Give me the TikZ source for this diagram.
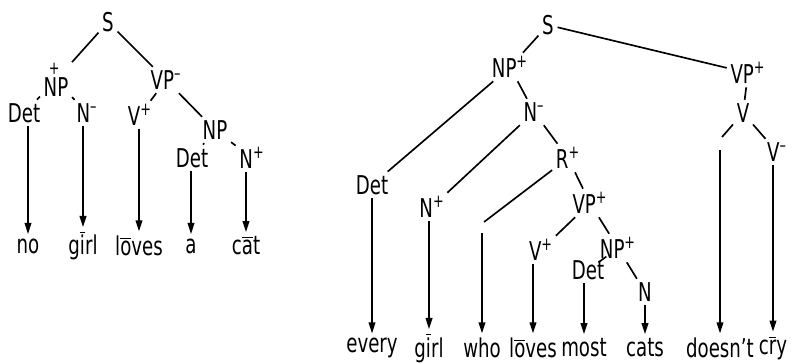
\documentclass[tikz,border=0pt]{standalone}
\usepackage{fontspec}
\setmainfont[FakeStretch=0.78]{DejaVu Sans Condensed}
\usepackage{tikz}
\usetikzlibrary{arrows.meta}
\newcommand{\sgp}{\textsuperscript{+}}
\newcommand{\sgm}{\textsuperscript{--}}
\newcommand{\bb}[1]{\ensuremath{\overline{\mbox{#1}}}}
\newcommand{\topplus}{\makebox[0pt][l]{\hspace{0.2em}\raisebox{0.5em}{\textsuperscript{+}}}}

\begin{document}
\begin{tikzpicture}[scale=0.19,line width=0.9pt,
  >={Triangle[length=6pt,width=3.6pt]}]
\tikzstyle{every node}+=[inner sep=1.6pt,font=\fontsize{14}{16}\selectfont]
\tikzstyle{word}=[inner sep=2pt]
\useasboundingbox (0,0) rectangle (79.4,-36.2);
\node (S1) at (10.8,-2.2) {S};
\node (NPa) at (5.6,-8.0) {\topplus NP};
\node (VPa) at (16.6,-8.0) {VP\sgm};
\node (Deta) at (2.4,-11.3) {Det};
\node (Na) at (8.7,-11.3) {N\sgm};
\node (Va) at (14.0,-11.5) {V\sgp};
\node (NPb) at (21.5,-13.0) {NP};
\node (Detb) at (19.2,-15.8) {Det};
\node (Nb) at (25.2,-15.8) {N\sgp};
\node[word] (no) at (2.8,-24.6) {no};
\node[word] (girla) at (8.3,-24.6) {g\bb{i}rl};
\node[word] (lovesa) at (13.9,-24.6) {l\bb{o}ves};
\node[word] (aa) at (19.1,-24.6) {a};
\node[word] (cat) at (24.6,-24.6) {c\bb{a}t};
\draw (S1) -- (NPa);
\draw (S1) -- (VPa);
\draw (NPa) -- (Deta);
\draw (NPa) -- (Na);
\draw (VPa) -- (Va);
\draw (VPa) -- (NPb);
\draw (NPb) -- (Detb);
\draw (NPb) -- (Nb);
\draw [->] (Deta.south -| no) -- (no.north);
\draw [->] (Na.south -| girla) -- (girla.north);
\draw [->] (Va.south -| lovesa) -- (lovesa.north);
\draw [->] (Detb.south -| aa) -- (aa.north);
\draw [->] (Nb.south -| cat) -- (cat.north);
\node (S2) at (54.8,-2.5) {S};
\node (NPc) at (51.0,-6.7) {NP\sgp};
\node (VPc) at (74.8,-7.3) {VP\sgp};
\node (Vc) at (74.3,-11.3) {V};
\node (Vd) at (77.7,-15.2) {V\sgm};
\node (Nc) at (53.4,-11.2) {N\sgm};
\node (Rc) at (56.8,-15.8) {R\sgp};
\node (Detc) at (37.2,-18.5) {Det};
\node (Nd) at (43.2,-20.7) {N\sgp};
\node (VPd) at (59.0,-20.3) {VP\sgp};
\node (Ve) at (54.1,-25.0) {V\sgp};
\node (NPe) at (61.8,-24.8) {NP\sgp};
\node (Dete) at (58.8,-27.0) {Det};
\node (Ne) at (64.5,-29.2) {N};
\coordinate (who1) at (48.4,-22.2);
\coordinate (who2) at (48.2,-23.3);
\coordinate (dn1) at (72.2,-13.7);
\coordinate (dn2) at (72.0,-15.0);
\node[word] (every) at (37.2,-34.8) {every};
\node[word] (girlb) at (42.9,-34.8) {g\bb{i}rl};
\node[word] (who) at (48.2,-34.8) {who};
\node[word] (lovesb) at (53.3,-34.8) {l\bb{o}ves};
\node[word] (most) at (58.4,-34.8) {most};
\node[word] (cats) at (64.5,-34.8) {cats};
\node[word] (doesnt) at (72.0,-34.8) {doesn't};
\node[word] (cry) at (77.3,-34.8) {c\bb{r}y};
\draw (S2) -- (NPc);
\draw (S2) -- (VPc);
\draw (NPc) -- (Detc);
\draw (NPc) -- (Nc);
\draw (Nc) -- (Nd);
\draw (Nc) -- (Rc);
\draw (Rc) -- (who1);
\draw (Rc) -- (VPd);
\draw (VPd) -- (Ve);
\draw (VPd) -- (NPe);
\draw (NPe) -- (Dete);
\draw (NPe) -- (Ne);
\draw (VPc) -- (Vc);
\draw (Vc) -- (dn1);
\draw (Vc) -- (Vd);
\draw [->] (Detc.south -| every) -- (every.north);
\draw [->] (Nd.south -| girlb) -- (girlb.north);
\draw [->] (who2) -- (who2 |- who.north);
\draw [->] (Ve.south -| lovesb) -- (lovesb.north);
\draw [->] (Dete.south -| most) -- (most.north);
\draw [->] (Ne.south -| cats) -- (cats.north);
\draw [->] (dn2) -- (dn2 |- doesnt.north);
\draw [->] (Vd.south -| cry) -- (cry.north);
\end{tikzpicture}
\end{document}
